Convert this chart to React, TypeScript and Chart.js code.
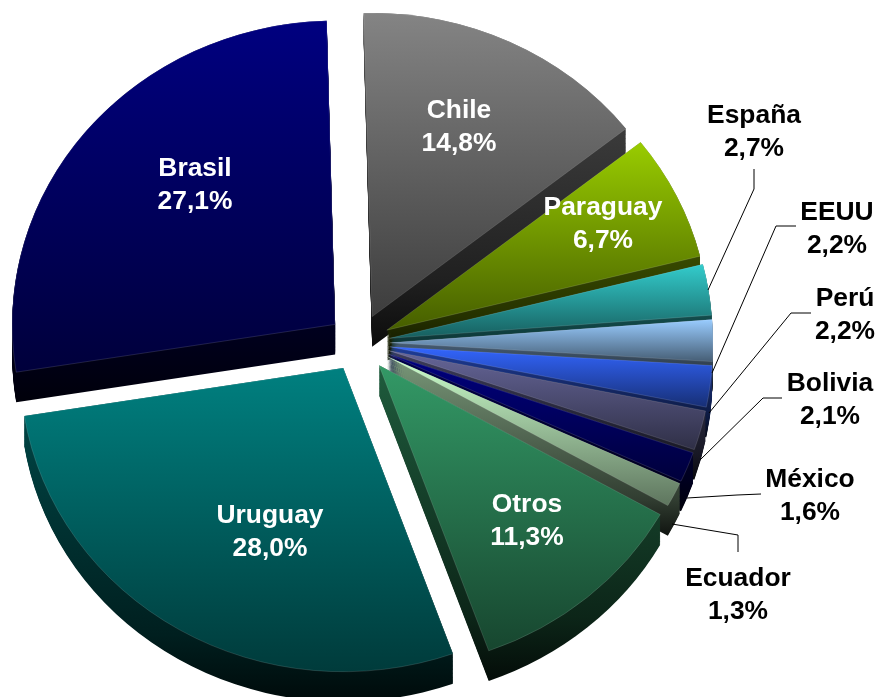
import React, { useEffect, useRef } from "react";
import { Chart, registerables } from "chart.js";

Chart.register(...registerables);

const CATEGORIES = ["Chile", "Paraguay", "España", "EEUU", "Perú", "Bolivia", "México", "Ecuador", "Otros", "Uruguay", "Brasil"];
const VALUES = [14.8, 6.7, 2.7, 2.2, 2.2, 2.1, 1.6, 1.3, 11.3, 28.0, 27.1];
const TOP_COLORS = ["#848484", "#99cc00", "#33cccc", "#99ccff", "#3366ff", "#666699", "#000080", "#ccffcc", "#339966", "#008080", "#000080"];

const W = 879;
const H = 697;
const CX = 359;
const CY = 343;
const RADIUS = 323;
const SQUASH = 0.94;
const EXPLODE = 31;
const DEPTH = 30;
const ROTATION = -1.5;
const FONT = 'bold 26.4px "Liberation Sans", Arial, sans-serif';

// centre of the two-line label of each slice
const LABEL_POS: [number, number][] = [
  [459, 111], [603, 208], [754, 116], [837, 213], [845, 299], [830, 384],
  [810, 480], [738, 579], [527, 505], [270, 516], [195, 169],
];
const LABEL_STEP = 33;
const LABEL_COLOR = ["#fff", "#fff", "#000", "#000", "#000", "#000", "#000", "#000", "#fff", "#fff", "#fff"];
// leader lines
const LEADERS: [number, number][][] = [
  [[754, 169], [754, 189], [708, 290]],
  [[796, 226], [776, 226], [712, 373]],
  [[811, 313], [791, 313], [709, 413]],
  [[782, 398], [763, 398], [700, 460]],
  [[761, 494], [737, 495], [687, 498]],
  [[738, 552], [738, 535], [672, 524]],
];

const total = VALUES.reduce((a, b) => a + b, 0);
const toRad = (d: number) => (d * Math.PI) / 180;

function sliceAngles(i: number) {
  const before = VALUES.slice(0, i).reduce((a, b) => a + b, 0);
  const start = toRad(ROTATION - 90 + (before / total) * 360);
  const end = start + toRad((VALUES[i] / total) * 360);
  return { start, end };
}

function sliceCentre(i: number) {
  const { start, end } = sliceAngles(i);
  const mid = (start + end) / 2;
  return { x: CX + Math.cos(mid) * EXPLODE, y: CY + Math.sin(mid) * EXPLODE };
}

// vertical extent of a slice in the un-squashed drawing space
function sliceYRange(i: number) {
  const { start, end } = sliceAngles(i);
  const c = sliceCentre(i);
  const ys = [c.y, c.y + Math.sin(start) * RADIUS, c.y + Math.sin(end) * RADIUS];
  for (let a = -Math.PI * 1.5; a < Math.PI * 2.5; a += Math.PI) {
    if (a > start && a < end) ys.push(c.y + Math.sin(a) * RADIUS);
  }
  return { top: Math.min(...ys), bottom: Math.max(...ys) };
}

function shade(hex: string, f: number) {
  const n = parseInt(hex.slice(1), 16);
  const r = Math.round(((n >> 16) & 255) * f);
  const g = Math.round(((n >> 8) & 255) * f);
  const b = Math.round((n & 255) * f);
  return `rgb(${r},${g},${b})`;
}

function faceGradient(ctx: CanvasRenderingContext2D, i: number) {
  const { top, bottom } = sliceYRange(i);
  const g = ctx.createLinearGradient(0, top, 0, bottom);
  g.addColorStop(0, TOP_COLORS[i]);
  g.addColorStop(1, shade(TOP_COLORS[i], 0.46));
  return g;
}

function wallGradient(ctx: CanvasRenderingContext2D, i: number) {
  const { top, bottom } = sliceYRange(i);
  const g = ctx.createLinearGradient(0, top, 0, bottom + DEPTH / SQUASH);
  g.addColorStop(0, shade(TOP_COLORS[i], 0.6));
  g.addColorStop(0.8, shade(TOP_COLORS[i], 0.24));
  g.addColorStop(1, shade(TOP_COLORS[i], 0.08));
  return g;
}

const applySquash = (ctx: CanvasRenderingContext2D) => {
  ctx.translate(CX, CY);
  ctx.scale(1, SQUASH);
  ctx.translate(-CX, -CY);
};

const explodedPie = {
  id: "explodedPie",
  afterDatasetsUpdate(chart: any) {
    chart.getDatasetMeta(0).data.forEach((arc: any, i: number) => {
      const c = sliceCentre(i);
      arc.x = c.x;
      arc.y = c.y;
    });
  },
  beforeDatasetsDraw(chart: any) {
    const ctx: CanvasRenderingContext2D = chart.ctx;
    ctx.save();
    applySquash(ctx);
    const arcs = chart.getDatasetMeta(0).data;
    const order = arcs
      .map((_: any, i: number) => i)
      .sort((a: number, b: number) => sliceCentre(a).y - sliceCentre(b).y);
    order.forEach((i: number) => {
      const arc = arcs[i];
      ctx.fillStyle = wallGradient(ctx, i);
      const steps = Math.round(DEPTH / SQUASH);
      for (let d = steps; d >= 0; d--) {
        ctx.beginPath();
        ctx.moveTo(arc.x, arc.y + d);
        ctx.arc(arc.x, arc.y + d, arc.outerRadius, arc.startAngle, arc.endAngle);
        ctx.closePath();
        ctx.fill();
      }
    });
  },
  afterDatasetsDraw(chart: any) {
    const ctx: CanvasRenderingContext2D = chart.ctx;
    ctx.restore();
    ctx.save();
    ctx.strokeStyle = "#000";
    ctx.lineWidth = 1;
    LEADERS.forEach((pts) => {
      ctx.beginPath();
      pts.forEach(([x, y], k) => (k ? ctx.lineTo(x, y) : ctx.moveTo(x, y)));
      ctx.stroke();
    });
    ctx.font = FONT;
    ctx.textAlign = "center";
    ctx.textBaseline = "middle";
    CATEGORIES.forEach((name, i) => {
      const [x, y] = LABEL_POS[i];
      ctx.fillStyle = LABEL_COLOR[i];
      ctx.fillText(name, x, y);
      ctx.fillText(VALUES[i].toFixed(1).replace(".", ",") + "%", x, y + LABEL_STEP);
    });
    ctx.restore();
  },
};

export default function App() {
  const ref = useRef<HTMLCanvasElement>(null);
  useEffect(() => {
    const chart = new Chart(ref.current!, {
      type: "pie",
      data: {
        labels: CATEGORIES,
        datasets: [
          {
            data: VALUES,
            clip: false,
            borderWidth: 0.6,
            borderColor: "rgba(255,255,255,0.22)",
            backgroundColor: (c: any) => faceGradient(c.chart.ctx, c.dataIndex),
          } as any,
        ],
      },
      options: {
        responsive: false,
        maintainAspectRatio: false,
        animation: false,
        events: [],
        rotation: ROTATION,
        radius: RADIUS,
        layout: { padding: { right: W - 2 * CX, bottom: H - 2 * CY } },
        plugins: { legend: { display: false }, tooltip: { enabled: false } },
      },
      plugins: [explodedPie],
    });
    return () => chart.destroy();
  }, []);
  return (
    <div style={{ position: "absolute", left: 0, top: 0, width: W, height: H, background: "#fff" }}>
      <canvas ref={ref} width={W} height={H} style={{ display: "block" }} />
    </div>
  );
}
